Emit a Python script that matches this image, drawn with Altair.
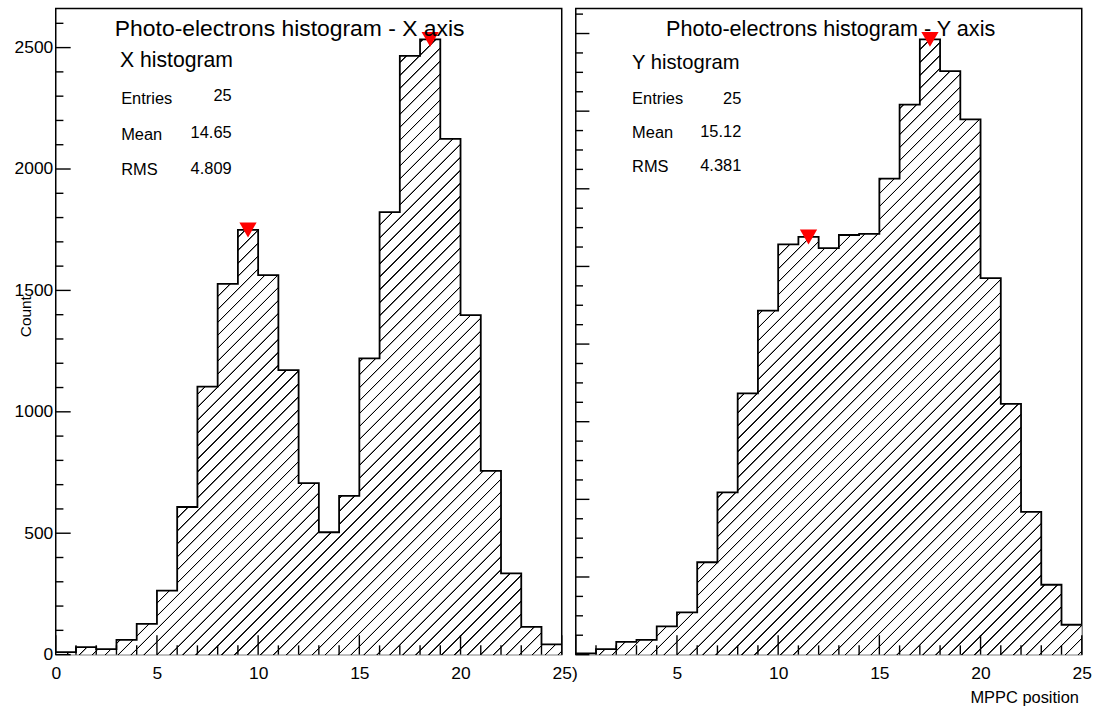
import altair as alt
import pandas as pd

FONT = "Liberation Sans"

# Histogram bin edges (MPPC position 0..25) and per-bin photo-electron counts
edges = list(range(26))
x_counts = [10, 31, 23, 61, 127, 264, 608, 1104, 1527, 1749, 1563, 1172, 706,
            504, 654, 1220, 1822, 2466, 2534, 2124, 1398, 757, 335, 114, 42]
y_counts = [3, 14, 33, 38, 73, 109, 238, 418, 673, 886, 1057, 1076, 1047,
            1081, 1084, 1226, 1417, 1585, 1503, 1379, 970, 646, 368, 180, 77]

# Bins flagged by the peak finder
x_peaks = [9, 18]
y_peaks = [11, 17]

x_stats = [("Entries", "25"), ("Mean", "14.65"), ("RMS", "4.809")]
y_stats = [("Entries", "25"), ("Mean", "15.12"), ("RMS", "4.381")]

x_tick_labels = [0, 5, 10, 15, 20, 25]

PW = 508.3   # plot width of each pad
PH = 649     # plot height of each pad


def hatch(W, H, spacing=13.0, core=0.45, edge=1.05, phase=5.0):
    """Diagonal (/) line fill built from a striped linear gradient."""
    L = W + H
    a = W * L / (W * W + H * H)
    stops = []
    c = phase
    while c + edge < L:
        for off, col in ((c - edge, "white"), (c - core, "black"),
                         (c + core, "black"), (c + edge, "white")):
            stops.append(alt.GradientStop(offset=max(0.0, off) / L, color=col))
        c += spacing
    return alt.LinearGradient(gradient="linear", stops=stops,
                              x1=0, y1=0, x2=a, y2=a * H / W)


def text(s, x, y, size, align="left"):
    return alt.Chart(pd.DataFrame({"t": [s]})).mark_text(
        align=align, baseline="alphabetic", font=FONT, fontSize=size, color="black"
    ).encode(text="t:N", x=alt.value(x), y=alt.value(y))


def panel(counts, peaks, y_major, y_minor, y_tick_len, show_y, x_labels, x_title, t):
    ymax = max(counts) * 1.05
    xs = alt.Scale(domain=[0, 25], nice=False, zero=False)
    ys = alt.Scale(domain=[0, ymax], nice=False, zero=True)

    hist = pd.DataFrame({"edge": edges, "count": counts + [counts[-1]]})

    x_axis_kw = dict(values=x_labels, labelFontSize=17.5, labelPadding=10,
                     labelFlush=False, labelOverlap=False, ticks=False,
                     tickSize=0, domain=False, grid=False)
    if x_title:
        x_axis = alt.Axis(title=x_title, titleX=505, titleY=48, titleAlign="right",
                          titleBaseline="alphabetic", titleFontSize=16.5,
                          titleFontWeight="normal", **x_axis_kw)
    else:
        x_axis = alt.Axis(title=None, **x_axis_kw)

    if show_y:
        y_axis = alt.Axis(values=y_major, format="d", title="Count", titleX=-30,
                          titleY=309, titleAngle=270, titleAlign="center",
                          titleBaseline="middle", titleFontSize=15.5,
                          titleFontWeight="normal", labelFontSize=17.5,
                          labelPadding=3, labelFlush=False, labelOverlap=False,
                          ticks=False, tickSize=0, domain=False, grid=False,
                          minExtent=55, maxExtent=55)
    else:
        y_axis = None

    H = max(counts) / ymax * PH
    fill = alt.Chart(hist).mark_area(
        interpolate="step-after", fill=hatch(PW, H), stroke=None
    ).encode(
        x=alt.X("edge:Q", scale=xs, axis=x_axis),
        y=alt.Y("count:Q", scale=ys, axis=y_axis),
    )
    outline = alt.Chart(hist).mark_line(
        interpolate="step-after", color="black", strokeWidth=1.8
    ).encode(x=alt.X("edge:Q", scale=xs), y=alt.Y("count:Q", scale=ys))

    x_major = [v for v in range(26) if v % 5 == 0]
    x_minor = [v for v in range(26) if v % 5 != 0]
    xt_major = alt.Chart(pd.DataFrame({"v": x_major})).mark_rule(
        color="black", strokeWidth=1.4
    ).encode(x=alt.X("v:Q", scale=xs), y=alt.value(PH), y2=alt.value(PH - 19.5))
    xt_minor = alt.Chart(pd.DataFrame({"v": x_minor})).mark_rule(
        color="black", strokeWidth=1.4
    ).encode(x=alt.X("v:Q", scale=xs), y=alt.value(PH), y2=alt.value(PH - 9.3))

    yt_major = alt.Chart(pd.DataFrame({"v": y_major})).mark_rule(
        color="black", strokeWidth=1.4
    ).encode(y=alt.Y("v:Q", scale=ys), x=alt.value(0), x2=alt.value(y_tick_len[0]))
    yt_minor = alt.Chart(pd.DataFrame({"v": y_minor})).mark_rule(
        color="black", strokeWidth=1.4
    ).encode(y=alt.Y("v:Q", scale=ys), x=alt.value(0), x2=alt.value(y_tick_len[1]))

    pk = pd.DataFrame({"center": [b + 0.5 for b in peaks],
                       "count": [counts[b] for b in peaks]})
    markers = alt.Chart(pk).mark_point(
        shape="triangle-down", filled=True, color="red", opacity=1, size=300
    ).encode(x=alt.X("center:Q", scale=xs), y=alt.Y("count:Q", scale=ys))

    layers = [fill, outline, xt_major, xt_minor, yt_major, yt_minor, markers]
    layers.append(text(t["title"], t["title_x"], t["title_y"], t["title_size"], "center"))
    layers.append(text(t["name"], t["name_x"], t["name_y"], t["name_size"]))
    for (lab, val), ly, vy in zip(t["stats"], t["lab_y"], t["val_y"]):
        layers.append(text(lab, t["lab_x"], ly, 16.5))
        layers.append(text(val, t["val_x"], vy, 16.5, "right"))
    for extra in t.get("extra", []):
        layers.append(extra)

    return alt.layer(*layers).properties(width=PW, height=PH)


left = panel(
    x_counts, x_peaks,
    y_major=[0, 500, 1000, 1500, 2000, 2500],
    y_minor=[v for v in range(0, 2700, 100) if v % 500 != 0],
    y_tick_len=(15, 7.7), show_y=True, x_labels=x_tick_labels, x_title=None,
    t=dict(title="Photo-electrons histogram - X axis", title_x=235, title_y=27.5,
           title_size=23, name="X histogram", name_x=64.5, name_y=58.3, name_size=21.3,
           stats=x_stats, lab_x=65.7, lab_y=[95.7, 132.3, 167.3],
           val_x=176.7, val_y=[93.3, 130, 165.7]),
)

right = panel(
    y_counts, y_peaks,
    y_major=list(range(0, 1700, 200)),
    y_minor=[v for v in range(0, 1700, 50) if v % 200 != 0],
    y_tick_len=(13.7, 7.3), show_y=False, x_labels=[5, 10, 15, 20, 25],
    x_title="MPPC position",
    t=dict(title="Photo-electrons histogram - Y axis", title_x=256, title_y=28,
           title_size=21.7, name="Y histogram", name_x=56.6, name_y=60.7, name_size=20.3,
           stats=y_stats, lab_x=56.6, lab_y=[95.7, 130, 164],
           val_x=166.3, val_y=[95.7, 129, 163.3],
           extra=[text(")", -1, 673, 17.5, "center")]),
)

chart = alt.hconcat(left, right, spacing=13.4, bounds="flush").properties(
    padding={"left": 0, "top": 6, "right": 0, "bottom": 0}
).configure_view(
    stroke="black", strokeWidth=1.5
).configure_axis(
    labelFont=FONT, titleFont=FONT, labelColor="black", titleColor="black"
)

chart.save("out.html", embed_options={"renderer": "svg", "actions": False})
